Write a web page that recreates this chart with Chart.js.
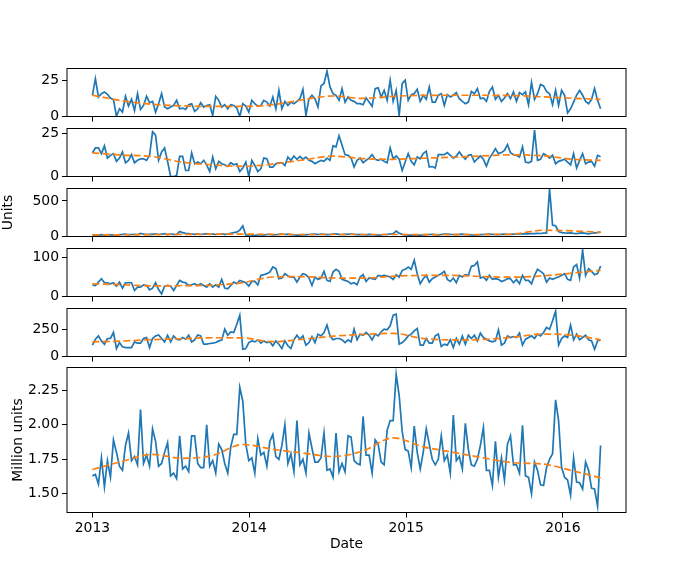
<!DOCTYPE html>
<html>
<head>
<meta charset="utf-8">
<script src="https://cdn.jsdelivr.net/npm/chart.js@4.4.1/dist/chart.umd.min.js"></script>
<style>
  body { margin: 0; background: #fff; }
  #wrap { position: relative; width: 698px; height: 576px; overflow: hidden; background: #fff; }
  #wrap canvas { position: absolute; left: 0; }
</style>
</head>
<body>
<div id="wrap"></div>
<script>
// weekly series, first week 2013-01-01
const firstWeek = Date.UTC(2013, 0, 1);
const weekCount = 170;
const yearTicks = [2013, 2014, 2015, 2016];
const trendWeeks = [0, 10, 20, 30, 40, 50, 60, 70, 80, 90, 100, 110, 120, 130, 140, 150, 160, 169];

const ticks1 = [0, 25];
const ticks2 = [0, 25];
const ticks3 = [0, 500];
const ticks4 = [0, 100];
const ticks5 = [0, 250];
const ticks6 = [1.5, 1.75, 2.0, 2.25];

const units1 = [14.6, 26, 13.4, 15.7, 16.9, 15.3, 12.7, 11.5, 0.2, 5.3,
  3, 13.9, 7.2, 11.8, 4.1, 15.7, 4.8, 7.6, 13.9, 9.5,
  10.4, 3, 8.8, 15.7, 6.5, 5.3, 6.5, 7.6, 11.1, 5.3,
  5.8, 4.8, 8.1, 8.8, 3.5, 5.3, 9.5, 6.5, 7.6, 8.1,
  0.7, 13.9, 11.1, 6.5, 8.1, 5.3, 8.1, 7.6, 5.8, 0,
  8.8, 7.2, 3, 11.1, 8.8, 7, 7.6, 11.1, 9.9, 7.2,
  13.4, 5.3, 18, 5.3, 10.4, 7.6, 9.9, 8.8, 10.4, 12.2,
  18.7, 0.7, 12.2, 14.6, 12.2, 6.5, 21, 22.7, 31.2, 20.3,
  15.7, 14.6, 11.1, 19.2, 9.9, 13.4, 11.1, 10.4, 8.8,
  8.8, 8.1, 12.7, 9.9, 7.0, 19.2, 19.7, 13.4, 18.0, 11.1,
  25.0, 10.4, 18.0, 0.7, 22.7, 25.0, 11.1, 15.0, 15.7, 18.7,
  10.4, 14.6, 11.8, 20.3, 9.9, 9.9, 14.6, 15.7, 7.6, 15.0,
  13.4, 14.6, 16.4, 12.2, 10.4, 8.8, 9.9, 17.3, 15.7, 19.2,
  12.2, 12.7, 10.4, 17.3, 20.3, 11.8, 14.6, 10.4, 12.7, 15.7,
  12.2, 16.9, 10.4, 16.4, 15.0, 16.9, 8.1, 23.4, 11.8, 15.7,
  22.0, 21.0, 17.3, 15.7, 8.1, 18.0, 7.6, 18.0, 14.6, 2.5,
  5.3, 9.9, 14.6, 18.0, 14.6, 10.4, 8.8, 11.8, 19.2, 11.1, 5.3];
const trend1 = [14.6, 10.8, 8.4, 7.3, 6.9, 6.9, 8.1, 11.5, 14.1, 12.4, 13.9, 14.5, 14.6, 14.6, 14.4, 13.5, 12.5, 11.8];

const units2 = [13.7, 16.6, 16.6, 13.3, 17.8, 10.7, 12.3, 13.3, 8.8, 10.7,
  14.3, 8.0, 9.4, 12.7, 8.0, 9.4, 10.3, 10.3, 9.4, 12.3,
  26.0, 24.0, 9.4, 14.3, 16.6, 8.8, 0, 0, 0.5, 11.7,
  11.7, 3.5, 3.5, 13.7, 7.4, 8.4, 7.4, 9.4, 6.8, 2.9,
  11.3, 4.5, 8.8, 7.4, 6.8, 5.8, 8.0, 6.8, 7.4, 2.9,
  4.9, 8.4, 0, 9.4, 6.4, 2.9, 4.5, 10.7, 10.3, 5.5,
  5.5, 7.4, 8.0, 8.0, 6.4, 11.3, 9.4, 11.9, 10.0, 11.7,
  10.0, 11.3, 9.4, 8.8, 7.4, 8.4, 9.4, 8.8, 10.7, 9.4,
  17.8, 17.2, 23.7, 18.2, 12.7, 12.3, 10.7, 5.5, 9.4,
  10.7, 8.0, 9.4, 10.7, 12.7, 10.0, 9.4, 10.0, 8.8, 8.0,
  16.6, 10.3, 11.9, 10.0, 3.5, 8.4, 13.3, 8.8, 6.8, 11.3,
  10.3, 13.3, 14.7, 5.5, 5.8, 4.9, 12.7, 12.7, 12.7, 13.9,
  12.3, 10.7, 11.9, 14.3, 11.9, 10.0, 12.3, 12.7, 8.4, 10.3,
  11.9, 10.0, 6.0, 10.7, 13.3, 16.2, 13.3, 13.9, 15.2, 18.6,
  13.9, 12.7, 12.3, 11.3, 17.2, 8.4, 8.0, 8.8, 27.0, 9.4,
  10.0, 13.3, 12.3, 10.7, 12.3, 7.4, 8.8, 9.4, 10.0, 8.4,
  6.8, 13.3, 4.9, 9.4, 13.3, 7.4, 8.4, 8.8, 6.0, 12.3, 11.5];
const trend2 = [13.7, 12.5, 11.6, 8.3, 6.8, 5.9, 7.2, 9.6, 11.8, 10.4, 10.0, 10.6, 11.2, 12.0, 12.6, 12.0, 10.0, 9.4];

const units3 = [20, 22, 18, 25, 20, 28, 22, 24, 20, 26,
  30, 35, 25, 28, 30, 25, 45, 32, 28, 30,
  30, 38, 28, 32, 40, 26, 35, 30, 28,
  70, 55, 45, 40,
  35, 30, 38, 28, 33, 40, 30, 36, 28, 32, 38, 30, 34, 45,
  55, 62, 90, 148,
  20, 5, 5,
  18, 22, 25, 20, 28, 30, 24, 26, 30, 35, 28, 32, 26, 22, 20, 18, 25, 22,
  28, 30, 32, 28, 34, 30, 26, 28, 32, 36, 30, 28, 33, 29, 35, 31, 27,
  25, 28, 22, 30, 26, 24, 20, 22, 28, 30, 35, 40,
  75, 45, 30,
  22, 18, 20, 15, 18, 20, 22, 25, 28, 30, 26, 24, 28, 32, 35, 30, 28, 26, 30,
  33, 28, 25, 22, 20, 24, 26, 28, 30, 32, 30, 28, 26, 30, 34, 30, 28, 32,
  35, 38, 36, 40, 38, 42, 40, 45, 42, 48, 50,
  665, 160, 150, 70,
  55, 50, 48, 52, 45, 40, 48, 50, 44, 38, 46, 52, 55, 62];
const trend3 = [22, 24, 27, 30, 32, 33, 30, 28, 28, 28, 28, 27, 27, 28, 36, 88, 78, 60];

const units4 = [30.3, 28.6, 37.3, 46, 35.6, 35.6, 33, 35.6, 26.9, 37.3,
  21.7, 35.6, 35.6, 35.6, 15.6, 24.3, 24.3, 30.3, 28.6, 17.3,
  21.7, 35.6, 18.2, 6.9, 26.9, 28.6, 26.9, 15.6, 28.6, 41.7,
  37.3, 35.6, 28.6, 30.3, 33, 28.6, 33, 28.6, 24.3, 33,
  24.3, 30.3, 24.3, 44.3, 21.7, 19.9, 28.6, 37.3, 33, 41.7,
  39, 35.6, 26.9, 39, 39, 30.3, 54.7, 56.5, 59.1, 63.4,
  76.5, 72.2, 46, 47.8, 59.1, 53, 50.4, 50.4, 37.3, 50.4,
  59.1, 56.5, 47.8, 28.6, 50.4, 44.3, 47.8, 65.2, 41.7, 39,
  63.4, 70.4, 65.2, 44.3, 41.7, 39, 33, 35.6, 30.3,
  50.4, 56.5, 39, 47.8, 46, 44.3, 54.7, 53, 54.7, 53,
  50.4, 44.3, 56.5, 50.4, 67.8, 70.4, 76.5, 70.4, 93.9, 59.1,
  33, 46, 54.7, 37.3, 46, 50.4, 54.7, 59.1, 65.2, 44.3,
  39, 47.8, 35.6, 54.7, 50.4, 56.5, 54.7, 78.2, 80, 89.6,
  47.8, 50.4, 41.7, 54.7, 44.3, 46, 44.3, 39, 41.7, 46,
  46, 35.6, 44.3, 33, 54.7, 41.7, 41.7, 33, 54.7, 70.4,
  65.2, 59.1, 37.3, 47.8, 44.3, 47.8, 50.4, 54.7, 59.1, 44.3,
  41.7, 76.5, 82.6, 47.8, 120, 54.7, 72.2, 65.2, 56.5, 59.1, 79.1];
const trend4 = [33, 30.5, 27.5, 28, 29.5, 36, 50.5, 51.5, 48, 47.5, 52.5, 54.5, 54.5, 51.5, 50, 53.5, 61, 67.8];

const units5 = [104, 159, 189, 143, 113, 165, 165, 220, 73, 128,
  89, 82, 82, 82, 134, 122, 122, 165, 174, 82,
  165, 189, 198, 165, 134, 195, 134, 189, 159, 153,
  174, 159, 195, 134, 153, 198, 189, 113, 113, 119,
  122, 128, 143, 150, 250, 195, 226, 220, 296, 379,
  67, 73, 128, 143, 134, 153, 122, 143, 128, 134,
  98, 143, 113, 73, 143, 98, 73, 153, 195, 159,
  189, 104, 128, 183, 128, 205, 189, 220, 287, 189,
  153, 165, 165, 153, 128, 153, 134, 250, 153,
  205, 195, 220, 195, 153, 205, 189, 226, 250, 244,
  281, 379, 388, 113, 128, 153, 189, 205, 235, 256,
  104, 104, 165, 122, 122, 189, 205, 92, 113, 104,
  153, 82, 165, 113, 189, 113, 195, 165, 195, 143,
  214, 174, 159, 143, 134, 143, 244, 104, 122, 189,
  174, 183, 174, 214, 104, 159, 174, 189, 165, 205,
  189, 220, 266, 250, 327, 415, 104, 165, 189, 174,
  287, 153, 205, 153, 174, 195, 153, 143, 67, 143, 153];
const trend5 = [134, 142, 155, 163, 172, 170, 136, 158, 186, 203, 212, 165, 152, 156, 178, 205, 195, 153];

const million6 = [1.63, 1.64, 1.57, 1.76, 1.55, 1.74, 1.62, 1.89, 1.80, 1.70,
  1.67, 1.85, 1.94, 1.74, 1.77, 1.71, 2.11, 1.72, 1.78, 1.70,
  1.97, 1.88, 1.70, 1.72, 1.80, 1.87, 1.63, 1.65, 1.61, 1.92,
  1.68, 1.70, 1.66, 1.92, 1.92, 1.72, 1.69, 1.69, 2.00, 1.70,
  1.74, 1.65, 1.86, 1.82, 1.72, 1.65, 1.84, 1.93, 1.93, 2.27,
  2.17, 1.86, 1.74, 1.76, 1.65, 1.90, 1.78, 1.80, 1.70, 1.88,
  1.93, 1.77, 1.75, 1.85, 2.00, 1.72, 1.79, 1.66, 2.03, 1.71,
  1.75, 1.65, 1.94, 1.83, 1.73, 1.73, 1.76, 1.94, 1.67, 1.68,
  1.62, 1.94, 1.66, 1.72, 1.66, 1.92, 1.91,
  1.74, 1.72, 1.71, 2.06, 1.78, 1.78, 1.65, 1.89, 1.86, 1.73,
  1.71, 1.96, 2.03, 2.03, 2.365, 2.21, 1.95, 1.82, 1.81, 1.69,
  1.99, 1.80, 1.68, 1.80, 1.97, 1.86, 1.75, 1.71, 1.75, 1.92,
  1.74, 1.78, 1.65, 2.07, 1.74, 1.77, 1.68, 2.01, 1.82, 1.71,
  1.70, 1.75, 1.85, 1.98, 1.67, 1.67, 1.56, 1.88, 1.62, 1.76,
  1.60, 1.86, 1.92, 1.71, 1.71, 1.65, 1.995, 1.63, 1.62, 1.50,
  1.73, 1.67, 1.565, 1.56, 1.69, 1.75, 1.79, 2.18, 2.03, 1.69,
  1.62, 1.60, 1.49, 1.76, 1.585, 1.58, 1.535, 1.73, 1.67, 1.54,
  1.535, 1.41, 1.85];
const trend6 = [1.676, 1.735, 1.785, 1.757, 1.778, 1.857, 1.822, 1.795, 1.77, 1.81, 1.905, 1.84, 1.80, 1.76, 1.725, 1.715, 1.665, 1.616];

// x positions as decimal years
const weeks = [];
for (let i = 0; i < weekCount; i++) {
  const d = new Date(firstWeek + i * 7 * 86400000);
  const y = d.getUTCFullYear();
  const a = Date.UTC(y, 0, 1), b = Date.UTC(y + 1, 0, 1);
  weeks.push(y + (d - a) / (b - a));
}
const span = weeks[weekCount - 1] - weeks[0];
const xMin = weeks[0] - span * 0.05;
const xMax = weeks[weekCount - 1] + span * 0.05;

Chart.defaults.font.family = 'DejaVu Sans';
Chart.defaults.font.size = 13.9;
Chart.defaults.color = '#000';

// box round each plot
const frame = {
  id: 'frame',
  afterDraw(chart) {
    const a = chart.chartArea, g = chart.ctx;
    g.save();
    g.strokeStyle = '#000';
    g.lineWidth = 1;
    g.strokeRect(a.left, a.top, a.right - a.left, a.bottom - a.top);
    g.restore();
  }
};

const panels = [
  { vals: units1, trend: trend1, min: 0, max: 33, ticks: ticks1, top: 68.5, bottom: 116.5 },
  { vals: units2, trend: trend2, min: 0, max: 27.9, ticks: ticks2, top: 128.5, bottom: 176.5 },
  { vals: units3, trend: trend3, min: 0, max: 674, ticks: ticks3, top: 188.5, bottom: 236.5, title: 'Units', titlePad: 0 },
  { vals: units4, trend: trend4, min: 0, max: 124.3, ticks: ticks4, top: 248.5, bottom: 296.5 },
  { vals: units5, trend: trend5, min: 0, max: 440, ticks: ticks5, top: 308.5, bottom: 356.5 },
  { vals: million6, trend: trend6, min: 1.365, max: 2.414, ticks: ticks6, top: 367.5, bottom: 512.5, title: 'Million units', titlePad: 10.5, dec: 2 }
];

const wrap = document.getElementById('wrap');
panels.forEach((p, k) => {
  const last = k === panels.length - 1;
  const cTop = Math.floor(p.top) - 10;
  const padTop = p.top - cTop;
  const xH = last ? 40 : 6;
  const h = Math.ceil(padTop + (p.bottom - p.top) + xH + 4);
  const padBottom = h - padTop - (p.bottom - p.top) - xH;

  const cv = document.createElement('canvas');
  cv.width = 698;
  cv.height = h;
  cv.style.top = cTop + 'px';
  wrap.appendChild(cv);

  const pts = p.vals.map((v, i) => ({ x: weeks[i], y: v }));
  const tpts = p.trend.map((v, i) => ({ x: weeks[trendWeeks[i]], y: v }));

  new Chart(cv, {
    type: 'line',
    data: {
      datasets: [
        { data: tpts, borderColor: '#ff7f0e', borderWidth: 1.7, borderDash: [7, 3.3],
          pointRadius: 0, cubicInterpolationMode: 'monotone', order: 0 },
        { data: pts, borderColor: '#1f77b4', borderWidth: 1.7, pointRadius: 0,
          tension: 0, order: 1 }
      ]
    },
    options: {
      responsive: false,
      animation: false,
      devicePixelRatio: 1,
      events: [],
      layout: { padding: { left: 0, right: 72, top: padTop, bottom: padBottom } },
      plugins: { legend: { display: false }, tooltip: { enabled: false } },
      scales: {
        x: {
          type: 'linear',
          min: xMin,
          max: xMax,
          border: { display: false },
          grid: { drawOnChartArea: false, tickLength: 5, tickColor: '#000', tickWidth: 1 },
          ticks: { display: last, padding: 3, autoSkip: false, maxRotation: 0,
                   callback: v => String(v) },
          title: { display: last, text: 'Date', padding: { top: 0, bottom: 0 } },
          afterBuildTicks: s => { s.ticks = yearTicks.map(v => ({ value: v })); },
          afterFit: s => { s.height = xH; s.paddingLeft = 0; s.paddingRight = 0; }
        },
        y: {
          min: p.min,
          max: p.max,
          border: { display: false },
          grid: { drawOnChartArea: false, tickLength: 5, tickColor: '#000', tickWidth: 1 },
          ticks: { padding: 3, autoSkip: false,
                   callback: v => p.dec ? v.toFixed(p.dec) : String(v) },
          title: { display: !!p.title, text: p.title || '', padding: { top: p.titlePad || 0, bottom: 0 } },
          afterBuildTicks: s => { s.ticks = p.ticks.map(v => ({ value: v })); },
          afterFit: s => { s.width = 67; s.paddingTop = 0; s.paddingBottom = 0; }
        }
      }
    },
    plugins: [frame]
  });
});
</script>
</body>
</html>
